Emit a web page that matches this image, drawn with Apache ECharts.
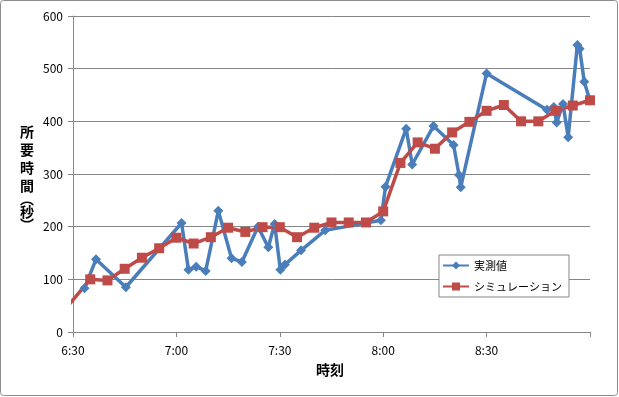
<!DOCTYPE html>
<html>
<head>
<meta charset="utf-8">
<script src="https://cdn.jsdelivr.net/npm/echarts@6/dist/echarts.min.js"></script>
<style>
html,body{margin:0;padding:0;background:#fff;}
#c{width:619px;height:397px;}
</style>
</head>
<body>
<div id="c"></div>
<script>
// ---- data ----
const measuredName = '実測値';
const simName = 'シミュレーション';
const measuredTimes = ['6:33:20','6:36:40','6:45:20','7:01:30','7:03:30','7:05:45','7:08:30','7:12:10','7:16:00','7:19:00','7:23:40','7:26:40','7:28:30','7:30:10','7:31:30','7:36:10','7:43:10','7:59:20','8:00:40','8:06:40','8:08:25','8:14:35','8:20:25','8:22:00','8:22:30','8:30:00','8:47:30','8:49:30','8:50:20','8:52:10','8:53:40','8:56:20','8:57:00','8:58:20','9:00:00'];
const measuredValues = [83,138,85,207,118,124,116,230,140,133,200,161,205,118,128,155,193,212,276,386,318,391,355,298,275,491,422,427,398,433,370,545,538,475,439];
const simTimes = ['6:25','6:35','6:40','6:45','6:50','6:55','7:00','7:05','7:10','7:15','7:20','7:25','7:30','7:35','7:40','7:45','7:50','7:55','8:00','8:05','8:10','8:15','8:20','8:25','8:30','8:35','8:40','8:45','8:50','8:55','9:00'];
const simValues = [22,100,98,120,141,159,179,168,180,198,190,199,199,180,198,208,208,208,229,321,360,348,379,399,420,431,400,400,420,430,440];
const xMinLabel = '6:30', xMaxLabel = '9:00';
const yTicks = [0,100,200,300,400,500,600];
const xTitle = '時刻';
const yTitleChars = ['所','要','時','間','︵','秒','︶'];

function toMin(s){const p=s.split(':').map(Number);return p[0]*60+p[1]+(p[2]||0)/60;}
function fmt(v){const h=Math.floor(v/60),m=Math.round(v-h*60);return h+':'+(m<10?'0':'')+m;}
const pairs=(ts,vs)=>ts.map((t,i)=>[toMin(t),vs[i]]);

const FONT="'Noto Sans CJK JP','Noto Sans',sans-serif";
const chart=echarts.init(document.getElementById('c'),null,{renderer:'canvas'});

const yRich={a:{fontSize:14,fontWeight:'bold',lineHeight:18,fontFamily:FONT,fill:'#000'},
             p:{fontSize:14,fontWeight:'bold',lineHeight:8,fontFamily:FONT,fill:'#000'}};
const yText=yTitleChars.map(c=>(c==='︵'||c==='︶')?'{p|'+c+'}':'{a|'+c+'}').join('\n');

chart.setOption({
  animation:false,
  textStyle:{fontFamily:FONT},
  grid:{left:73,top:16,right:29,bottom:65,containLabel:false},
  xAxis:{
    type:'value',min:toMin(xMinLabel),max:toMin(xMaxLabel),interval:30,
    axisLine:{show:true,lineStyle:{color:'#868686',width:1}},
    axisTick:{show:true,length:5,lineStyle:{color:'#868686'}},
    axisLabel:{color:'#000',fontSize:12,margin:12,fontFamily:FONT,
      formatter:v=>v>=toMin(xMaxLabel)?'':fmt(v)},
    splitLine:{show:false}
  },
  yAxis:{
    type:'value',min:yTicks[0],max:yTicks[yTicks.length-1],interval:100,
    axisLine:{show:true,lineStyle:{color:'#868686',width:1}},
    axisTick:{show:true,length:5,lineStyle:{color:'#868686'}},
    axisLabel:{color:'#000',fontSize:12,margin:10,fontFamily:FONT},
    splitLine:{show:true,lineStyle:{color:'#868686',width:1}}
  },
  legend:{
    orient:'vertical',left:439,top:255,
    itemWidth:26,itemHeight:10,itemGap:10,
    padding:[5,7,5,3],
    borderColor:'#868686',borderWidth:1,backgroundColor:'#fff',
    textStyle:{color:'#000',fontSize:11,fontFamily:FONT},
    data:[measuredName,simName]
  },
  graphic:[
    {type:'rect',shape:{x:0.5,y:0.5,width:617,height:395,r:3},style:{fill:'none',stroke:'#8c8c8c',lineWidth:1},silent:true},
    {type:'text',x:27,y:176,style:{text:yText,rich:yRich,align:'center',verticalAlign:'middle'},silent:true},
    {type:'text',x:330,y:370,style:{text:xTitle,fontSize:14,fontWeight:'bold',fill:'#000',fontFamily:FONT,align:'center',verticalAlign:'middle'},silent:true}
  ],
  series:[
    {name:measuredName,type:'line',data:pairs(measuredTimes,measuredValues),
     symbol:'diamond',symbolSize:10,clip:true,
     lineStyle:{color:'#4A7EBB',width:3.5},itemStyle:{color:'#4A7EBB'}},
    {name:simName,type:'line',data:pairs(simTimes,simValues),
     symbol:'rect',symbolSize:10,clip:true,
     lineStyle:{color:'#BE4B48',width:3.5},itemStyle:{color:'#BE4B48'}}
  ]
});
</script>
</body>
</html>
